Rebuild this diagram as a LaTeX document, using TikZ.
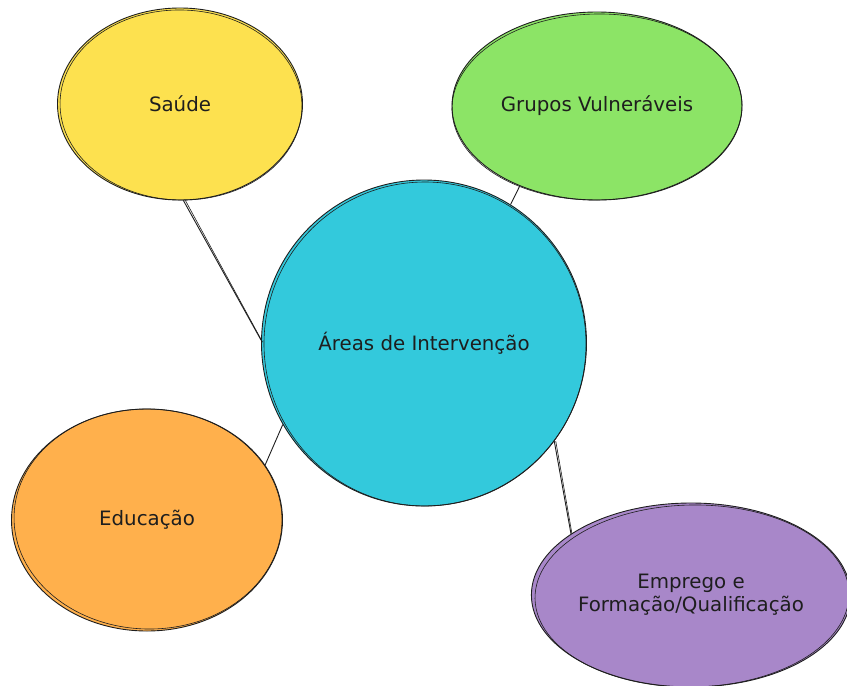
\documentclass[tikz,border=0pt]{standalone}
\usepackage{fontspec}
\setmainfont{DejaVu Sans}
\usetikzlibrary{shapes.geometric}
\definecolor{ink}{HTML}{1E1E1E}
\definecolor{cyellow}{HTML}{FDE14F}
\definecolor{cgreen}{HTML}{8CE466}
\definecolor{ccyan}{HTML}{33C9DC}
\definecolor{corange}{HTML}{FFB04C}
\definecolor{cpurple}{HTML}{A887C9}
\begin{document}
\begin{tikzpicture}[x=1pt,y=-1pt,
  bubble/.style={ellipse, draw=ink, line width=0.9pt, inner sep=0pt, align=center,
    font=\fontsize{19.8}{23}\selectfont, text=ink},
  link/.style={draw=ink, line width=0.9pt},
  sketch/.style={draw=ink, line width=0.6pt}]
\useasboundingbox (0,0) rectangle (847,686);
\node[bubble, fill=ccyan, minimum width=325, minimum height=326] (hub) at (424,343) {Áreas de Intervenção};
\node[bubble, fill=cyellow, minimum width=245, minimum height=192] (saude) at (180,104) {Saúde};
\node[bubble, fill=cgreen, minimum width=290, minimum height=188] (grupos) at (597,106) {Grupos Vulneráveis};
\node[bubble, fill=corange, minimum width=271, minimum height=222] (educ) at (147,520) {Educação};
\node[bubble, fill=cpurple, minimum width=316, minimum height=184] (empr) at (691,595) {Emprego e\\Formação/Qualificação};
% second sketch strokes
\draw[sketch] ([shift={(1,1)}]hub.center) ellipse [x radius=161, y radius=162, rotate=2];
\draw[sketch] ([shift={(1,1)}]saude.center) ellipse [x radius=121, y radius=95, rotate=-1.5];
\draw[sketch] ([shift={(0,1)}]grupos.center) ellipse [x radius=145, y radius=93, rotate=1];
\draw[sketch] ([shift={(1,-1)}]educ.center) ellipse [x radius=134, y radius=110, rotate=-1.5];
\draw[sketch] ([shift={(1,1)}]empr.center) ellipse [x radius=157, y radius=91, rotate=1];
% connectors
\draw[link] (saude.-88) -- (hub.179);
\draw[sketch] ([xshift=2pt]saude.-88) -- ([xshift=1.5pt,yshift=-2pt]hub.179);
\draw[link] (grupos.226) -- (hub.58);
\draw[link] (hub.210) -- (educ.25);
\draw[link] (hub.-37.6) -- (empr.153);
\draw[sketch] ([xshift=1.5pt]hub.-37.6) -- ([xshift=1pt]empr.153);
\end{tikzpicture}
\end{document}
